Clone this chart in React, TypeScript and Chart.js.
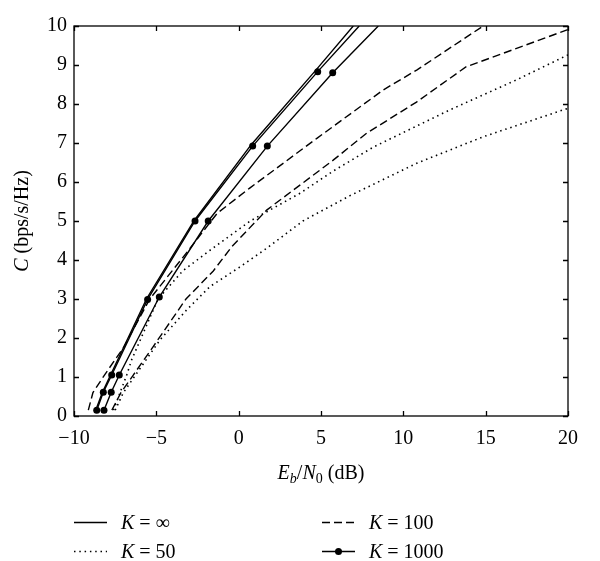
import React, { useEffect, useRef } from "react";
import { Chart, registerables } from "chart.js";

Chart.register(...registerables);

const FONT = '"Liberation Serif", "Times New Roman", Times, serif';

// Axis ticks
const xTickValues = [-10, -5, 0, 5, 10, 15, 20];
const yTickValues = [0, 1, 2, 3, 4, 5, 6, 7, 8, 9, 10];

// K = infinity (solid)
const kInfEbN0 = [-8.68, -8.28, -7.78, -5.6, -2.72, 0.75, 4.65, 6.96];
const kInfC = [0.15, 0.6, 1.05, 3.0, 5.0, 6.95, 8.85, 10.0];

// K = 1000 (solid with markers), two curves
const k1000aEbN0 = [-8.62, -8.22, -7.71, -5.53, -2.65, 0.85, 4.8, 7.32];
const k1000aC = [0.15, 0.61, 1.05, 2.99, 5.0, 6.92, 8.83, 10.0];
const k1000bEbN0 = [-8.18, -7.74, -7.25, -4.82, -1.85, 1.74, 5.71, 8.48];
const k1000bC = [0.15, 0.61, 1.05, 3.05, 5.0, 6.92, 8.8, 10.0];

// K = 100 (dashed), two curves
const k100aEbN0 = [-9.13, -8.85, -8.15, -7.0, -5.4, -3.36, -1.3, 0.69, 4.75, 8.78, 10.81, 14.85];
const k100aC = [0.15, 0.6, 1.05, 1.75, 3.0, 4.08, 5.2, 5.85, 7.12, 8.36, 8.87, 10.0];
const k100bEbN0 = [-7.7, -7.15, -6.4, -5.19, -3.2, -1.54, -0.4, 1.7, 3.72, 5.74, 7.77, 10.8, 13.8, 20];
const k100bC = [0.15, 0.6, 1.05, 1.78, 3.0, 3.72, 4.35, 5.28, 5.92, 6.56, 7.25, 8.05, 8.95, 9.91];

// K = 50 (dotted), two curves
const k50aEbN0 = [-7.6, -7.2, -6.8, -6.5, -5.8, -4.9, -3.4, -1.74, 0.7, 3.72, 5.74, 8.2, 12.83, 16.88, 20];
const k50aC = [0.15, 0.6, 1.05, 1.44, 2.12, 3.0, 3.72, 4.25, 5.0, 5.71, 6.28, 6.9, 7.85, 8.62, 9.26];
const k50bEbN0 = [-7.5, -7.0, -6.2, -4.78, -3.16, -1.74, 0.0, 1.7, 3.9, 6.76, 10.81, 14.85, 20];
const k50bC = [0.15, 0.6, 1.09, 1.95, 2.72, 3.32, 3.8, 4.3, 5.0, 5.65, 6.48, 7.16, 7.89];

// Legend values
const legendValues = ["\u221E", "100", "50", "1000"];

const pts = (xs: number[], cs: number[]) => xs.map((x, i) => ({ x, y: cs[i] }));
const fmt = (v: number) => String(v).replace("-", "\u2212");

type Run = { t: string; it?: boolean; s: number; dy?: number };

function drawRuns(ctx: CanvasRenderingContext2D, runs: Run[], x: number, y: number, align: "left" | "center") {
  ctx.textAlign = "left";
  ctx.textBaseline = "alphabetic";
  const widths = runs.map((r) => {
    ctx.font = `${r.it ? "italic " : ""}${r.s}px ${FONT}`;
    return ctx.measureText(r.t).width;
  });
  const total = widths.reduce((a, b) => a + b, 0);
  let cx = align === "center" ? x - total / 2 : x;
  runs.forEach((r, i) => {
    ctx.font = `${r.it ? "italic " : ""}${r.s}px ${FONT}`;
    ctx.fillText(r.t, cx, y + (r.dy || 0));
    cx += widths[i];
  });
}

const framePlugin = {
  id: "frame",
  afterDatasetsDraw(chart: any) {
    const { ctx, chartArea: a, scales } = chart;
    ctx.save();
    ctx.strokeStyle = "#000";
    ctx.lineWidth = 1.3;
    ctx.setLineDash([]);
    ctx.strokeRect(a.left, a.top, a.right - a.left, a.bottom - a.top);
    const tl = 5;
    ctx.beginPath();
    xTickValues.forEach((v) => {
      const px = Math.round(scales.x.getPixelForValue(v)) + 0.5;
      ctx.moveTo(px, a.bottom);
      ctx.lineTo(px, a.bottom - tl);
      ctx.moveTo(px, a.top);
      ctx.lineTo(px, a.top + tl);
    });
    yTickValues.forEach((v) => {
      const py = Math.round(scales.y.getPixelForValue(v)) + 0.5;
      ctx.moveTo(a.left, py);
      ctx.lineTo(a.left + tl, py);
      ctx.moveTo(a.right, py);
      ctx.lineTo(a.right - tl, py);
    });
    ctx.stroke();
    ctx.restore();
  },
  afterDraw(chart: any) {
    const { ctx, chartArea: a } = chart;
    ctx.save();
    ctx.fillStyle = "#000";
    // x-axis title
    drawRuns(
      ctx,
      [
        { t: "E", it: true, s: 20 },
        { t: "b", it: true, s: 14, dy: 4 },
        { t: "/", s: 20 },
        { t: "N", it: true, s: 20 },
        { t: "0", s: 14, dy: 4 },
        { t: " (dB)", s: 20 },
      ],
      (a.left + a.right) / 2,
      479,
      "center"
    );
    // y-axis title
    ctx.save();
    ctx.translate(28, (a.top + a.bottom) / 2);
    ctx.rotate(-Math.PI / 2);
    drawRuns(ctx, [{ t: "C", it: true, s: 20 }, { t: " (bps/s/Hz)", s: 20 }], 0, 0, "center");
    ctx.restore();

    // legend
    const cols = [74, 322];
    const rows = [522, 551];
    const sampleLen = 33;
    const items = [
      { col: 0, row: 0, style: "solid", v: legendValues[0] },
      { col: 1, row: 0, style: "dashed", v: legendValues[1] },
      { col: 0, row: 1, style: "dotted", v: legendValues[2] },
      { col: 1, row: 1, style: "marker", v: legendValues[3] },
    ];
    items.forEach((it) => {
      const x0 = cols[it.col];
      const y0 = rows[it.row] + 0.5;
      ctx.strokeStyle = "#000";
      ctx.lineWidth = it.style === "dotted" ? 1.6 : 1.4;
      ctx.setLineDash(it.style === "dashed" ? [8, 4] : it.style === "dotted" ? [1.5, 3.8] : []);
      ctx.beginPath();
      ctx.moveTo(x0, y0);
      ctx.lineTo(x0 + sampleLen, y0);
      ctx.stroke();
      ctx.setLineDash([]);
      if (it.style === "marker") {
        ctx.beginPath();
        ctx.arc(x0 + sampleLen / 2, y0, 3.5, 0, Math.PI * 2);
        ctx.fill();
      }
      drawRuns(
        ctx,
        [
          { t: "K", it: true, s: 20 },
          { t: " = " + it.v, s: 20 },
        ],
        x0 + 47,
        rows[it.row] + 7,
        "left"
      );
    });
    ctx.restore();
  },
};

export default function App() {
  const ref = useRef<HTMLCanvasElement | null>(null);

  useEffect(() => {
    if (!ref.current) return;
    const solid = { borderColor: "#000", borderWidth: 1.4, pointRadius: 0, tension: 0, fill: false };
    const markerRadius = (n: number) => (c: any) => (c.dataIndex < n - 1 ? 3.5 : 0);
    const chart = new Chart(ref.current, {
      type: "line",
      data: {
        datasets: [
          { label: "K = \u221E", data: pts(kInfEbN0, kInfC), ...solid },
          {
            label: "K = 1000",
            data: pts(k1000aEbN0, k1000aC),
            ...solid,
            pointRadius: markerRadius(k1000aEbN0.length),
            pointBackgroundColor: "#000",
            pointBorderWidth: 0,
          },
          {
            label: "K = 1000 (2)",
            data: pts(k1000bEbN0, k1000bC),
            ...solid,
            pointRadius: markerRadius(k1000bEbN0.length),
            pointBackgroundColor: "#000",
            pointBorderWidth: 0,
          },
          { label: "K = 100", data: pts(k100aEbN0, k100aC), ...solid, borderWidth: 1.4, borderDash: [8, 4] },
          { label: "K = 100 (2)", data: pts(k100bEbN0, k100bC), ...solid, borderWidth: 1.4, borderDash: [8, 4] },
          { label: "K = 50", data: pts(k50aEbN0, k50aC), ...solid, borderWidth: 1.6, borderDash: [1.5, 3.8] },
          { label: "K = 50 (2)", data: pts(k50bEbN0, k50bC), ...solid, borderWidth: 1.6, borderDash: [1.5, 3.8] },
        ],
      },
      options: {
        animation: false,
        responsive: true,
        maintainAspectRatio: false,
        devicePixelRatio: 1,
        layout: { padding: { left: 0, top: 26, right: 32, bottom: 105 } },
        plugins: { legend: { display: false }, tooltip: { enabled: false }, title: { display: false } },
        scales: {
          x: {
            type: "linear",
            min: -10,
            max: 20,
            afterBuildTicks: (s: any) => {
              s.ticks = xTickValues.map((v) => ({ value: v }));
            },
            afterFit: (s: any) => {
              s.height = 40;
            },
            grid: { display: false, drawTicks: false },
            border: { display: false },
            ticks: {
              color: "#000",
              font: { family: FONT, size: 20 },
              padding: 11,
              maxRotation: 0,
              autoSkip: false,
              callback: (v: any) => fmt(Number(v)),
            },
          },
          y: {
            type: "linear",
            min: 0,
            max: 10,
            afterBuildTicks: (s: any) => {
              s.ticks = yTickValues.map((v) => ({ value: v }));
            },
            afterFit: (s: any) => {
              s.width = 74;
            },
            grid: { display: false, drawTicks: false },
            border: { display: false },
            ticks: {
              color: "#000",
              font: { family: FONT, size: 20 },
              padding: 7,
              autoSkip: false,
              callback: (v: any) => fmt(Number(v)),
            },
          },
        },
      },
      plugins: [framePlugin],
    } as any);
    return () => chart.destroy();
  }, []);

  return (
    <div style={{ position: "absolute", left: 0, top: 0, width: 600, height: 561, background: "#fff" }}>
      <canvas ref={ref} />
    </div>
  );
}
